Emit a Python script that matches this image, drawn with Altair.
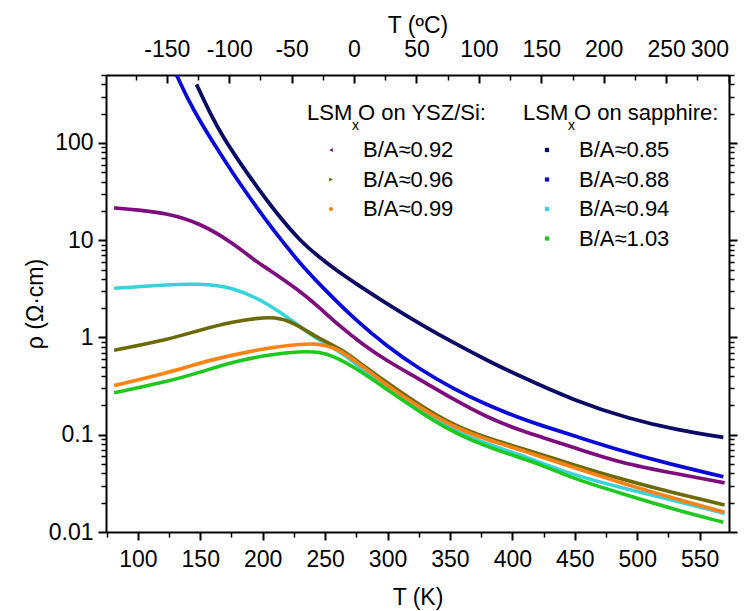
import altair as alt
import pandas as pd

# ---------------- data ----------------
T_085 = [147, 158, 168, 182, 195, 211, 230, 246, 260, 273, 300, 326, 353, 380, 406, 449, 494, 532, 569]
R_085 = [400, 200, 116, 62, 36, 19, 9.8, 6.6, 4.8, 3.7, 2.2, 1.38, 0.88, 0.58, 0.40, 0.226, 0.145, 0.112, 0.094]

T_088 = [131, 140, 150, 163, 176.5, 190, 203, 217, 230, 246, 257, 273, 299, 326, 353, 379, 406, 422, 449, 486, 526, 569]
R_088 = [500, 282, 166, 89, 48, 27, 15.8, 9.3, 5.75, 3.47, 2.51, 1.58, 0.82, 0.47, 0.295, 0.204, 0.148, 0.126, 0.098, 0.069, 0.050, 0.037]

T_092 = [81, 100, 123, 150, 176, 195, 203, 230, 246, 262, 280, 300, 326, 353, 380, 407, 423, 449, 487, 530, 570]
R_092 = [21.5, 20.5, 19, 15, 9.4, 6.0, 5.2, 3.0, 2.0, 1.3, 0.85, 0.57, 0.37, 0.23, 0.15, 0.11, 0.095, 0.074, 0.051, 0.04, 0.032]

T_094 = [81, 115, 150, 176, 203, 230, 244, 257, 270, 284, 300, 326, 353, 380, 407, 447, 490, 530, 570]
R_094 = [3.2, 3.45, 3.6, 3.3, 2.3, 1.3, 0.95, 0.78, 0.6, 0.42, 0.30, 0.18, 0.11, 0.08, 0.062, 0.039, 0.028, 0.021, 0.0155]

T_096 = [81, 123, 150, 176, 195, 210, 224, 243, 262, 280, 300, 326, 353, 380, 407, 449, 487, 530, 570]
R_096 = [0.74, 0.94, 1.2, 1.45, 1.58, 1.62, 1.45, 1.0, 0.78, 0.52, 0.34, 0.2, 0.125, 0.092, 0.073, 0.049, 0.035, 0.025, 0.019]

T_099 = [81, 123, 150, 176, 203, 230, 242, 257, 270, 285, 300, 326, 353, 380, 407, 423, 449, 487, 530, 570]
R_099 = [0.32, 0.43, 0.55, 0.66, 0.78, 0.85, 0.87, 0.80, 0.63, 0.45, 0.32, 0.19, 0.12, 0.088, 0.07, 0.059, 0.046, 0.032, 0.022, 0.016]

T_103 = [81, 123, 150, 176, 203, 230, 246, 257, 273, 300, 326, 353, 380, 406, 422, 447, 487, 530, 569]
R_103 = [0.27, 0.35, 0.44, 0.56, 0.66, 0.72, 0.71, 0.64, 0.50, 0.29, 0.17, 0.105, 0.075, 0.058, 0.050, 0.036, 0.025, 0.017, 0.0126]

# series in drawing order: key, label, group, T, rho
SERIES = [
    ("s0", "B/A≈0.94", "sapphire", T_094, R_094),
    ("s1", "B/A≈1.03", "sapphire", T_103, R_103),
    ("s2", "B/A≈0.96", "YSZ/Si", T_096, R_096),
    ("s3", "B/A≈0.99", "YSZ/Si", T_099, R_099),
    ("s4", "B/A≈0.92", "YSZ/Si", T_092, R_092),
    ("s5", "B/A≈0.88", "sapphire", T_088, R_088),
    ("s6", "B/A≈0.85", "sapphire", T_085, R_085),
]
COLORS = {"s0": "#35D3DB", "s1": "#1FC81F", "s2": "#6B6A06", "s3": "#FF8214",
          "s4": "#7E0C7E", "s5": "#0A0AD8", "s6": "#0B0B66"}
WIDTHS = {"s0": 3.5, "s1": 3.8, "s2": 5.5, "s3": 5.5, "s4": 5.5, "s5": 3.2, "s6": 3.2}

LEFT_HEAD = "O on YSZ/Si:"
RIGHT_HEAD = "O on sapphire:"
LEFT_ITEMS = [("B/A≈0.92", "s4", "triangle-left"), ("B/A≈0.96", "s2", "triangle-right"),
              ("B/A≈0.99", "s3", "circle")]
RIGHT_ITEMS = [("B/A≈0.85", "s6", "square"), ("B/A≈0.88", "s5", "square"),
               ("B/A≈0.94", "s0", "square"), ("B/A≈1.03", "s1", "square")]

X_MAJOR = [100, 150, 200, 250, 300, 350, 400, 450, 500, 550]
X_MINOR = [75, 125, 175, 225, 275, 325, 375, 425, 475, 525]
C_MAJOR = [-150, -100, -50, 0, 50, 100, 150, 200, 250, 300]
C_MINOR = [-175, -125, -75, -25, 25, 75, 125, 175, 225, 275]
Y_MAJOR = [0.01, 0.1, 1, 10, 100]

# ---------------- build ----------------
rows = []
for key, label, grp, T, R in SERIES:
    for t, r in zip(T, R):
        rows.append({"T": t, "rho": r, "key": key})
df = pd.DataFrame(rows)

Y_MINOR = [m * d for d in Y_MAJOR for m in range(2, 10) if m * d <= 500]
K0 = 273.15
TOP_MAJOR = [c + K0 for c in C_MAJOR]
TOP_MINOR = [c + K0 for c in C_MINOR]

W, H = 623, 457
FONT = "Liberation Sans"
xs = alt.Scale(domain=[74.5, 573.5], nice=False, zero=False)
ys = alt.Scale(type="log", domain=[0.01, 500], nice=False)

keys = [s[0] for s in SERIES]

lines = alt.Chart(df).mark_line(interpolate="basis", clip=True).encode(
    x=alt.X("T:Q", scale=xs, axis=alt.Axis(orient="bottom", values=X_MAJOR, title="T (K)",
                                          tickSize=8, tickWidth=2, labelPadding=8,
                                          titlePadding=15)),
    y=alt.Y("rho:Q", scale=ys, axis=alt.Axis(orient="left", values=Y_MAJOR, format="~g",
                                            title="ρ (Ω·cm)", tickSize=8, tickWidth=2,
                                            labelPadding=5, titlePadding=1)),
    color=alt.Color("key:N", scale=alt.Scale(domain=keys, range=[COLORS[k] for k in keys]), legend=None),
    strokeWidth=alt.StrokeWidth("key:N", scale=alt.Scale(domain=keys, range=[WIDTHS[k] for k in keys]), legend=None),
    detail="key:N",
)


def dummy(xaxis, yaxis):
    return alt.Chart(df).mark_point(opacity=0, size=1).encode(
        x=alt.X("T:Q", scale=xs, axis=xaxis),
        y=alt.Y("rho:Q", scale=ys, axis=yaxis),
    )


noax = dict(labels=False, title=None, domain=False)
minor_bl = dummy(alt.Axis(orient="bottom", values=X_MINOR, tickSize=5, tickWidth=1.5, **noax),
                 alt.Axis(orient="left", values=Y_MINOR, tickSize=5, tickWidth=1.5, **noax))
top_major = dummy(alt.Axis(orient="bottom", offset=-H, values=TOP_MAJOR, tickSize=8, tickWidth=2, **noax),
                  alt.Axis(orient="right", values=Y_MAJOR, tickSize=8, tickWidth=2, labels=False,
                           title=None, domain=True))
top_minor = dummy(alt.Axis(orient="bottom", offset=-H, values=TOP_MINOR, tickSize=5, tickWidth=1.5, **noax),
                  alt.Axis(orient="right", values=Y_MINOR, tickSize=5, tickWidth=1.5, **noax))
top_labels = alt.Chart(df).mark_point(opacity=0, size=1).encode(
    x=alt.X("T:Q", scale=xs, axis=alt.Axis(orient="top", values=TOP_MAJOR, ticks=False, domain=True,
                                          labelExpr="'' + round(datum.value - 273.15)",
                                          title="T (ºC)", labelPadding=14, titlePadding=1)),
    y=alt.Y("rho:Q", scale=ys, axis=None),
)

one = pd.DataFrame({"a": [1]})


def txt(s, x, y, size=22):
    return alt.Chart(one).mark_text(text=s, align="left", baseline="middle", font=FONT,
                                    fontSize=size, color="black").encode(
        x=alt.value(x), y=alt.value(y))


def mk(shape, color, x, y):
    return alt.Chart(one).mark_point(shape=shape, filled=True, opacity=1, size=18,
                                     color=color).encode(x=alt.value(x), y=alt.value(y))


legend_layers = []
for x0, head, items in [(201, LEFT_HEAD, LEFT_ITEMS), (417, RIGHT_HEAD, RIGHT_ITEMS)]:
    legend_layers.append(txt("LSM", x0, 38))
    legend_layers.append(txt("x", x0 + 45, 51, 14))
    legend_layers.append(txt(head, x0 + 51, 38))
    for i, (lab, key, shape) in enumerate(items):
        yy = 75 + i * 29.5
        legend_layers.append(mk(shape, COLORS[key], x0 + 24, yy))
        legend_layers.append(txt(lab, x0 + 56, yy))

chart = alt.layer(lines, minor_bl, top_major, top_minor, top_labels, *legend_layers).resolve_axis(
    x="independent", y="independent"
).properties(
    width=W, height=H,
    autosize=alt.AutoSizeParams(type="none"),
    padding={"left": 106, "top": 75, "right": 15, "bottom": 79},
).configure_view(stroke=None).configure_axis(
    grid=False, domainColor="black", domainWidth=2, tickColor="black",
    labelColor="black", titleColor="black", labelFont=FONT, titleFont=FONT,
    labelFontSize=23, titleFontSize=23, titleFontWeight="normal",
)

chart.save("out.html", embed_options={"renderer": "svg", "actions": False})
